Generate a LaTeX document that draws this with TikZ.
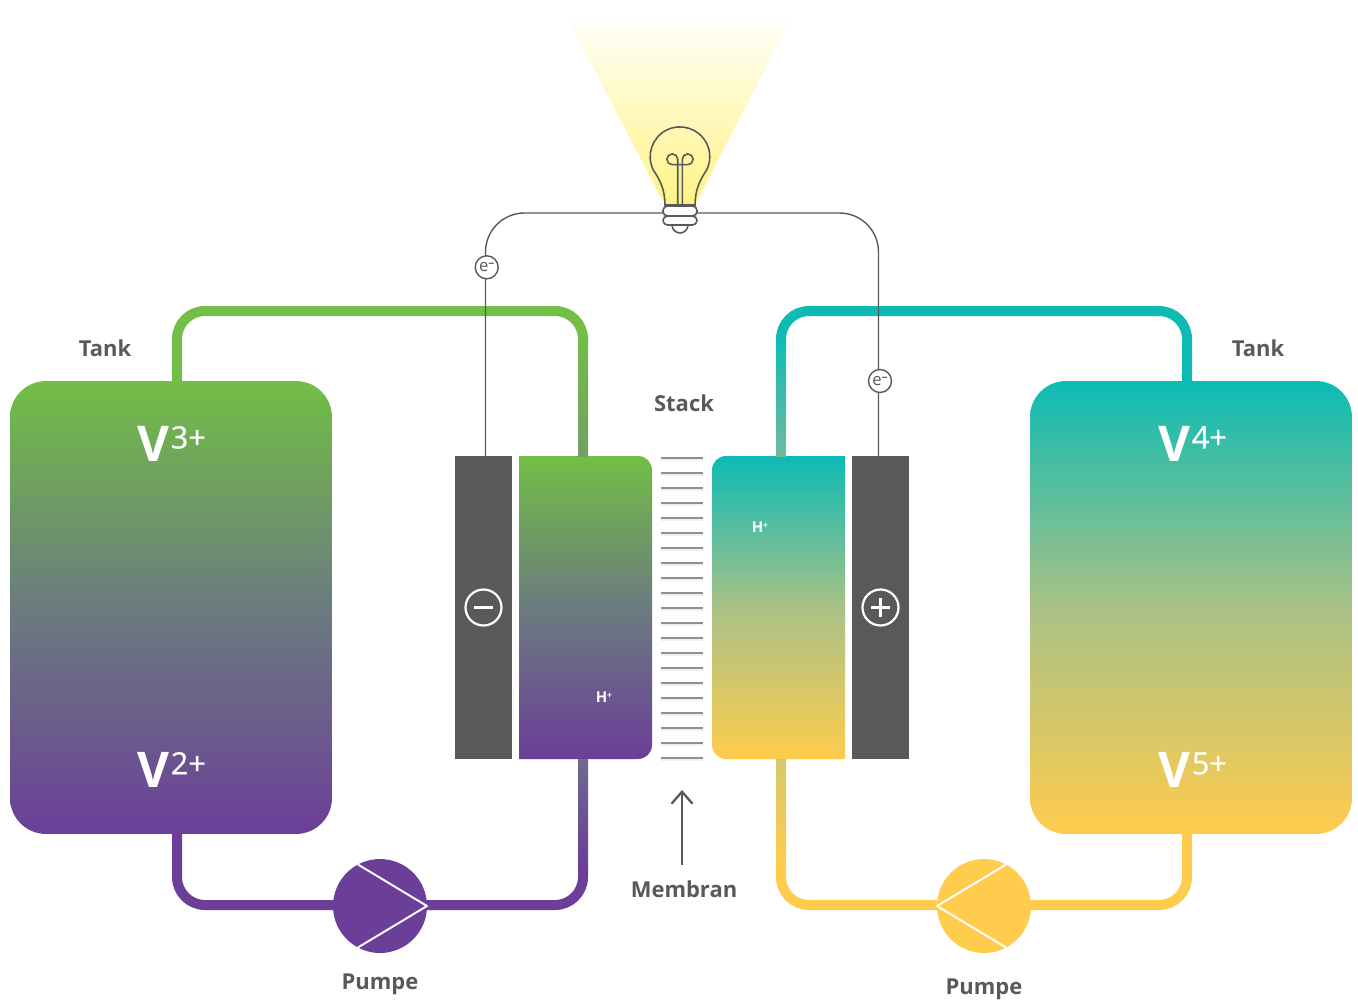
\documentclass[tikz,border=0pt]{standalone}
\usepackage{fontspec}
\setmainfont{Open Sans}
\usetikzlibrary{arrows.meta}
\definecolor{vgreen}{HTML}{72BE46}
\definecolor{vpurple}{HTML}{6B3F98}
\definecolor{vteal}{HTML}{0DBBB4}
\definecolor{vyellow}{HTML}{FFCC4D}
\definecolor{vdark}{HTML}{58595B}
\definecolor{vline}{HTML}{8F9094}
\definecolor{vshadow}{HTML}{F0F0F1}
\definecolor{vglow}{HTML}{FFF385}
\definecolor{vgreenmid}{HTML}{739F67}
\definecolor{vpurplemid}{HTML}{6E6A90}
\definecolor{vtealmid}{HTML}{70BAA0}
\definecolor{vyellowmid}{HTML}{D7C76C}
\definecolor{vcoldmid}{HTML}{6B7B7F}
\definecolor{vwarmmid}{HTML}{A9C186}
\newcommand{\vion}[2]{{\fontsize{28}{28}\selectfont\bfseries #1}\kern1pt\raisebox{0.27cm}{\fontsize{17.5}{17.5}\selectfont\addfontfeature{FakeBold=0.6} #2}}
\newcommand{\hion}{{\fontsize{8.5}{8.5}\selectfont\bfseries H\raisebox{0.07cm}{\fontsize{5}{5}\selectfont +}}}
\newcommand{\eion}{{\fontsize{9.5}{9.5}\selectfont e\raisebox{0.08cm}{\fontsize{6}{6}\selectfont\bfseries −}}}
\tikzset{
    pipe/.style={line width=0.2cm,rounded corners=0.56cm},
    wire/.style={vdark,line width=0.8pt,rounded corners=0.78cm},
    tankbox/.style={minimum width=6.44cm,minimum height=9.06cm,rounded corners=0.72cm,inner sep=0,outer sep=0},
    electrode/.style={fill=vdark,minimum width=1.14cm,minimum height=6.06cm,inner sep=0,outer sep=0},
    pumpdisc/.style={circle,minimum size=1.88cm,inner sep=0,outer sep=0},
    signdisc/.style={circle,draw=white,line width=1.25pt,minimum size=0.72cm,inner sep=0,outer sep=0},
    chargebub/.style={circle,draw=vdark,fill=white,line width=0.8pt,minimum size=0.46cm,inner sep=0,text=vdark},
    caption/.style={text=vdark,font=\fontsize{12.5}{12.5}\selectfont\bfseries},
    bulbline/.style={vdark,line width=0.9pt},
}
\begin{document}
\begin{tikzpicture}[x=0.02cm,y=-0.02cm]
    \useasboundingbox (0,0) rectangle (1358,1000);

    % Light cone
    \shade[top color=vglow!6,bottom color=vglow] (568,20) -- (790,20) -- (695,205) -- (665,205) -- cycle;

    % Tanks
    \node[tankbox,top color=vgreen,bottom color=vpurple,middle color=vcoldmid] (tankL) at (171,607.5) {};
    \node[tankbox,top color=vteal,bottom color=vyellow,middle color=vwarmmid] (tankR) at (1191,607.5) {};

    % Electrodes
    \node[electrode] (elecL) at (483.5,607.5) {};
    \node[electrode] (elecR) at (880.5,607.5) {};

    % Half cells
    \coordinate (cellLtop) at (519,456);
    \coordinate (cellLbot) at (519,759);
    \coordinate (cellRtop) at (845,456);
    \coordinate (cellRbot) at (845,759);
    \shade[top color=vgreen,bottom color=vpurple,middle color=vcoldmid] (cellLtop) [rounded corners=0.28cm] -- (652,456) -- (652,759) [sharp corners] -- (cellLbot) -- cycle;
    \shade[top color=vteal,bottom color=vyellow,middle color=vwarmmid] (cellRtop) [rounded corners=0.28cm] -- (712,456) -- (712,759) [sharp corners] -- (cellRbot) -- cycle;

    % Pipes
    \coordinate (pipeGa) at (177,311);
    \coordinate (pipeGb) at (583,311);
    \coordinate (pipeGc) at (583,335);
    \coordinate (pipeTa) at (1187,311);
    \coordinate (pipeTb) at (781,311);
    \coordinate (pipeTc) at (781,335);
    \coordinate (pipePa) at (177,905);
    \coordinate (pipePb) at (583,905);
    \coordinate (pipePc) at (583,865);
    \coordinate (pipeYa) at (1187,905);
    \coordinate (pipeYb) at (781,905);
    \coordinate (pipeYc) at (781,865);
    \draw[pipe,vgreen] (tankL.north -| pipeGa) -- (pipeGa) -- (pipeGb) -- (pipeGc);
    \draw[pipe,vteal] (tankR.north -| pipeTa) -- (pipeTa) -- (pipeTb) -- (pipeTc);
    \draw[pipe,vpurple] (tankL.south -| pipePa) -- (pipePa) -- (pipePb) -- (pipePc);
    \draw[pipe,vyellow] (tankR.south -| pipeYa) -- (pipeYa) -- (pipeYb) -- (pipeYc);
    \shade[top color=vgreen,bottom color=vgreenmid] ([xshift=-0.1cm]pipeGc) rectangle ([xshift=0.1cm]pipeGc |- cellLtop);
    \shade[top color=vteal,bottom color=vtealmid] ([xshift=-0.1cm]pipeTc) rectangle ([xshift=0.1cm]pipeTc |- cellRtop);
    \shade[top color=vpurplemid,bottom color=vpurple] ([xshift=-0.1cm]pipePc) rectangle ([xshift=0.1cm]pipePc |- cellLbot);
    \shade[top color=vyellowmid,bottom color=vyellow] ([xshift=-0.1cm]pipeYc) rectangle ([xshift=0.1cm]pipeYc |- cellRbot);

    % Pumps
    \node[pumpdisc,fill=vpurple] (pumpL) at (380,906) {};
    \node[pumpdisc,fill=vyellow] (pumpR) at (984,906) {};
    \draw[white,line width=1.1pt,line join=round] (pumpL.118) -- (pumpL.east) -- (pumpL.-118);
    \draw[white,line width=1.1pt,line join=round] (pumpR.62) -- (pumpR.west) -- (pumpR.-62);

    % Membrane
    \foreach \i in {0,...,20} {
        \draw[vshadow,line width=0.03cm] (661,460+15*\i) -- (703,460+15*\i);
        \draw[vline,line width=0.05cm] (661,458+15*\i) -- (703,458+15*\i);
    }
    \coordinate (arrowFoot) at (682,865);
    \coordinate (arrowTip) at (682,790);
    \draw[vdark,line width=1.3pt,-{Straight Barb[length=0.24cm,width=0.42cm]}] (arrowFoot) -- (arrowTip);

    % Wires
    \coordinate (wireLa) at (485.5,213);
    \coordinate (wireRa) at (878.5,213);
    \coordinate (bulbFoot) at (680,213);
    \draw[wire] (elecL.north -| wireLa) -- (wireLa) -- (bulbFoot);
    \draw[wire] (elecR.north -| wireRa) -- (wireRa) -- (bulbFoot);
    \node[chargebub] (chargeL) at (486.7,267.3) {\eion};
    \node[chargebub] (chargeR) at (880,381) {\eion};

    % Bulb
    \draw[bulbline] (665,205) .. controls (665,190) and (660,180) .. (653.3,170) arc (153.5:386.5:29.8) .. controls (700,180) and (695,190) .. (695,205) -- cycle;
    \draw[bulbline] (677.7,205) -- (677.7,159.3) arc (0:-270:5.4) -- (687.7,164.7) arc (90:-180:5.4) -- (682.3,205);
    \draw[bulbline,fill=white] (672,225) arc (180:0:8);
    \draw[bulbline,fill=white,rounded corners=0.09cm] (663,206) rectangle (697,216);
    \draw[bulbline,fill=white,rounded corners=0.09cm] (663,216) rectangle (697,225);

    % Signs
    \node[signdisc] (signL) at (483.5,607.5) {};
    \draw[white,line width=1.25pt] ([xshift=-0.195cm]signL.center) -- ([xshift=0.195cm]signL.center);
    \node[signdisc] (signR) at (880.5,607.5) {};
    \draw[white,line width=1.25pt] ([xshift=-0.195cm]signR.center) -- ([xshift=0.195cm]signR.center);
    \draw[white,line width=1.25pt] ([yshift=-0.195cm]signR.center) -- ([yshift=0.195cm]signR.center);

    % Labels
    \node[text=white] (ionA) at (171.5,444) {\vion{V}{3+}};
    \node[text=white] (ionB) at (171.5,770) {\vion{V}{2+}};
    \node[text=white] (ionC) at (1192.5,444) {\vion{V}{4+}};
    \node[text=white] (ionD) at (1192.5,770) {\vion{V}{5+}};
    \node[text=white] (protonL) at (604,697) {\hion};
    \node[text=white] (protonR) at (760,527) {\hion};
    \node[caption] (tankLabelL) at (105,348) {Tank};
    \node[caption] (tankLabelR) at (1258,348) {Tank};
    \node[caption] (stackLabel) at (684,403) {Stack};
    \node[caption] (membranLabel) at (684,889) {Membran};
    \node[caption] (pumpLabelL) at (380,984) {Pumpe};
    \node[caption] (pumpLabelR) at (984,989) {Pumpe};
\end{tikzpicture}
\end{document}
